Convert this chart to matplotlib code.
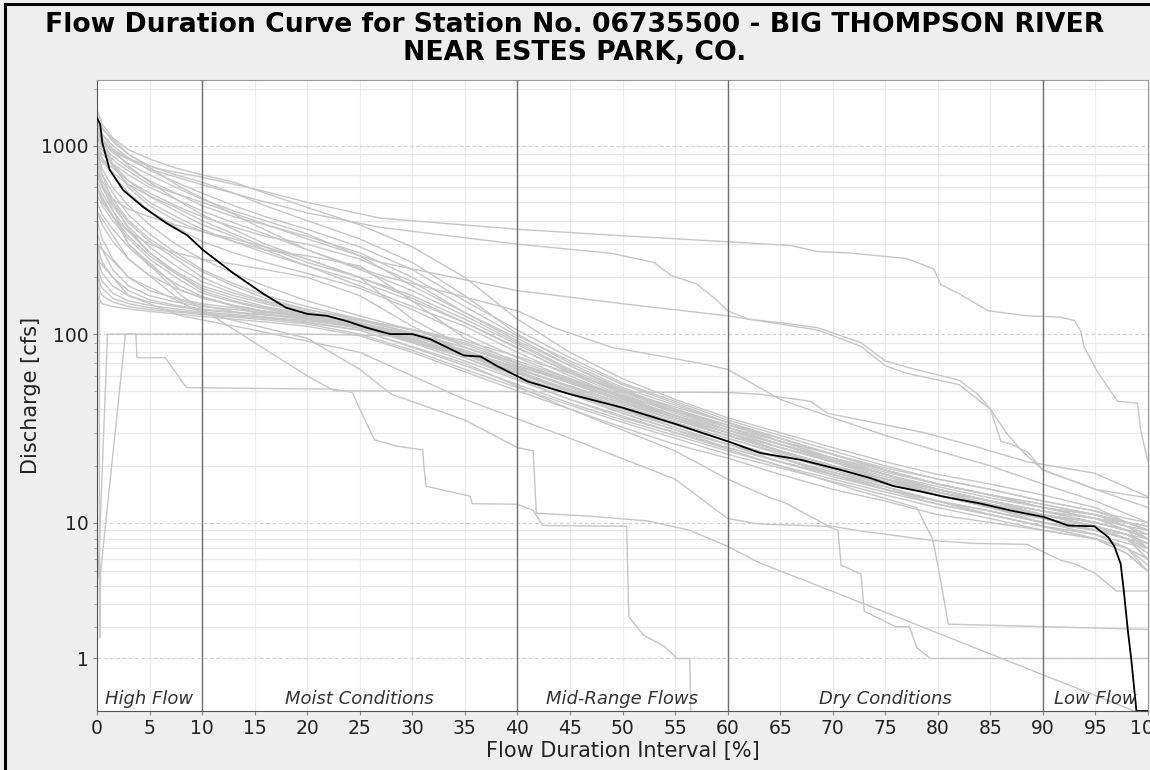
import numpy as np
import matplotlib
matplotlib.use("Agg")
import matplotlib.pyplot as plt
from matplotlib.patches import Rectangle

# ---------------- data ----------------
title = "Flow Duration Curve for Station No. 06735500 - BIG THOMPSON RIVER\nNEAR ESTES PARK, CO."
x_label = "Flow Duration Interval [%]"
y_label = "Discharge [cfs]"
zone_bounds = [10, 40, 60, 90]
zone_names = ["High Flow", "Moist Conditions", "Mid-Range Flows", "Dry Conditions", "Low Flow"]
zone_centers = [5, 25, 50, 75, 95]
x_ticks = list(range(0, 101, 5))
y_major = [1, 10, 100, 1000]
y_minor = [2, 3, 4, 5, 6, 7, 8, 9, 20, 30, 40, 50, 60, 70, 80, 90,
           200, 300, 400, 500, 600, 700, 800, 900, 2000]

# overall flow duration curve (black)
all_pct = [0, 0.3, 0.5, 1.2, 2.5, 4.4, 6.6, 8.6, 10.1, 13, 15.8, 18, 20, 21.9, 23.8,
           25.7, 27.9, 30, 31.7, 34.9, 36.5, 38, 41, 45, 50, 55, 60, 63.1, 67, 70.8,
           73.6, 75.8, 78.4, 80.6, 84.1, 86.9, 90.1, 92.4, 94.9, 96.2, 96.8, 97.4,
           97.7, 98.1, 98.4, 98.9, 99.0, 100]
all_cfs = [1400, 1300, 1040, 745, 580, 472, 388, 334, 279, 210, 164, 138, 128, 125, 117,
           108, 100, 100, 94, 77, 76, 68, 56, 48, 40.7, 33.4, 27, 23.4, 21.5, 19,
           17.2, 15.6, 14.6, 13.7, 12.6, 11.6, 10.7, 9.6, 9.5, 8.2, 7.2, 5.6,
           3.7, 1.8, 1.0, 0.0, 0.0, 0.0]

# yearly curves sharing one percent grid (gray)
year_pct = [0, 0.5, 1.5, 3, 5, 7.5, 10, 13, 16, 20, 25, 30, 35, 40, 45, 50, 55, 60,
            65, 70, 75, 80, 85, 90, 95, 98, 100]
upper_1 = [1550, 1300, 1100, 950, 850, 760, 700, 640, 560, 470, 380, 290, 200, 120, 80, 58, 45, 36, 30, 25, 21, 18, 16, 14, 12, 10, 9]
upper_2 = [1400, 1250, 1050, 900, 780, 700, 640, 560, 480, 400, 320, 240, 160, 100, 70, 52, 42, 34, 28, 23, 19, 16, 14, 12.5, 11, 9.5, 8]
upper_3 = [1250, 1150, 1000, 860, 740, 640, 560, 480, 420, 360, 290, 220, 150, 105, 75, 55, 44, 35, 29, 24, 20, 17, 15, 13, 11.5, 10, 9]
upper_4 = [1200, 1050, 920, 800, 700, 600, 520, 450, 400, 340, 260, 180, 130, 95, 68, 50, 40, 32, 26, 22, 18, 15, 13, 11.5, 10, 9, 7]
upper_5 = [1100, 980, 880, 760, 650, 560, 480, 420, 380, 330, 270, 200, 140, 98, 72, 54, 43, 34, 27, 23, 19, 16, 14, 12, 10.5, 9, 8]
upper_6 = [1000, 900, 800, 700, 600, 520, 450, 390, 340, 280, 220, 170, 125, 90, 65, 50, 39, 31, 26, 21, 18, 15.5, 13.5, 12, 10.5, 9.5, 8.5]
upper_7 = [950, 850, 760, 650, 560, 480, 420, 370, 330, 300, 250, 190, 130, 92, 68, 51, 40, 33, 27, 22, 19, 16, 14, 12, 11, 10, 9]
upper_8 = [900, 820, 720, 620, 540, 470, 400, 340, 290, 240, 200, 160, 120, 88, 64, 48, 38, 31, 25, 21, 17, 15, 13, 11, 10, 9, 8]
upper_9 = [1300, 1000, 800, 650, 540, 450, 380, 330, 280, 230, 190, 150, 115, 85, 62, 47, 37, 30, 24, 20, 17, 14, 12.5, 11, 9.5, 8.5, 7.5]
upper_10 = [1150, 950, 780, 620, 500, 420, 360, 310, 270, 230, 180, 140, 110, 80, 60, 46, 36, 29, 24, 20, 16.5, 14, 12, 10.5, 9, 8, 6]
mid_1 = [900, 750, 600, 480, 380, 300, 250, 210, 180, 150, 125, 105, 90, 72, 58, 46, 37, 30, 25, 21, 17.5, 15, 13, 11, 10, 9, 8]
mid_2 = [850, 700, 560, 430, 340, 270, 220, 185, 160, 140, 120, 100, 82, 66, 52, 42, 34, 28, 23, 19, 16, 14, 12, 10.5, 9, 8, 6]
mid_3 = [800, 650, 520, 400, 320, 260, 215, 180, 155, 135, 118, 102, 85, 68, 55, 44, 35, 29, 24, 20, 17, 14.5, 12.5, 11, 9.5, 8.5, 7.5]
mid_4 = [750, 620, 500, 390, 310, 250, 200, 170, 150, 135, 120, 105, 88, 70, 56, 45, 36, 30, 24, 20, 17, 14, 12, 10, 8.5, 7, 5]
mid_5 = [700, 600, 480, 370, 290, 230, 190, 165, 148, 132, 115, 98, 80, 64, 50, 40, 32, 26, 21, 18, 15, 13, 11.5, 10, 9, 8, 7]
mid_6 = [650, 560, 450, 350, 270, 215, 180, 160, 145, 130, 112, 95, 78, 62, 49, 39, 32, 26, 22, 18, 15.5, 13, 11.5, 10, 9, 8.5, 8]
mid_7 = [600, 520, 420, 330, 260, 210, 175, 155, 140, 128, 113, 97, 82, 66, 53, 43, 35, 29, 24, 20, 17, 14.5, 13, 11.5, 10.5, 10, 9.5]
mid_8 = [1000, 700, 500, 360, 270, 210, 170, 150, 138, 126, 110, 94, 78, 63, 51, 41, 33, 27, 22, 18.5, 15.5, 13, 11, 9.5, 8, 6.5, 5]
mid_9 = [550, 480, 400, 320, 250, 200, 165, 148, 136, 124, 108, 92, 75, 60, 48, 38, 31, 25, 21, 17.5, 15, 13, 11, 9.5, 8.5, 7.5, 7]
mid_10 = [500, 430, 360, 290, 230, 185, 158, 142, 132, 122, 107, 92, 77, 62, 50, 40, 33, 27, 22, 18, 15, 12.5, 11, 9.5, 8, 7, 6]
low_1 = [400, 320, 250, 200, 170, 155, 145, 138, 132, 126, 118, 106, 92, 76, 62, 50, 41, 34, 28, 23, 19, 16, 14, 12, 11, 10, 9.5]
low_2 = [350, 280, 220, 180, 160, 148, 140, 135, 130, 124, 115, 100, 85, 70, 57, 46, 37, 31, 26, 21.5, 18, 15, 13, 11.5, 10.5, 9.5, 9]
low_3 = [300, 240, 200, 170, 152, 142, 136, 131, 127, 122, 112, 97, 80, 65, 53, 43, 35, 29, 24, 20, 17, 14.5, 12.5, 11, 10, 9, 8.5]
low_4 = [250, 210, 180, 160, 148, 140, 134, 130, 126, 120, 110, 94, 78, 60, 48, 38, 31, 26, 22, 18.5, 16, 14, 12, 10.5, 9.5, 8.5, 7.5]
low_5 = [220, 190, 165, 150, 142, 136, 131, 127, 123, 118, 108, 90, 72, 57, 45, 36, 30, 25, 21, 18, 15, 13, 11.5, 10, 9, 8, 7]
low_6 = [200, 175, 155, 145, 138, 133, 129, 125, 121, 116, 105, 85, 68, 54, 43, 35, 29, 24, 20, 17, 14.5, 12.5, 11, 9.5, 8.5, 7, 6]
low_7 = [180, 160, 148, 140, 135, 131, 127, 123, 119, 113, 100, 82, 65, 52, 42, 34, 28, 23, 19.5, 16.5, 14, 12, 10.5, 9, 8, 6.5, 5]
low_8 = [160, 145, 140, 136, 132, 128, 124, 120, 116, 110, 98, 80, 63, 50, 40, 32, 26, 22, 18, 15, 13, 11, 10, 9, 8, 7, 5.5]
extra_1 = [700, 600, 520, 460, 420, 380, 350, 320, 290, 250, 200, 120, 85, 68, 55, 45, 37, 30, 25, 21, 17, 14.5, 12.5, 11, 9.5, 8.5, 7]
extra_2 = [1500, 1100, 800, 600, 480, 400, 350, 310, 280, 260, 230, 150, 95, 70, 55, 44, 36, 29, 24, 20, 17, 15, 13, 11.5, 10, 9, 8]
extra_3 = [600, 500, 420, 350, 300, 270, 250, 235, 220, 200, 160, 110, 80, 62, 50, 41, 34, 28, 23.5, 19.5, 16.5, 14, 12, 10.5, 9, 8, 7.5]
extra_4 = [1050, 850, 700, 560, 450, 370, 310, 270, 240, 210, 175, 135, 100, 75, 58, 47, 39, 32, 27, 22, 18.5, 16, 14, 12.5, 11, 10, 9]
extra_5 = [450, 380, 310, 250, 205, 175, 155, 142, 132, 122, 108, 93, 80, 67, 56, 47, 39, 33, 28, 23, 19.5, 17, 15, 13, 11.5, 10.5, 10]
extra_6 = [1350, 1150, 950, 780, 640, 520, 430, 360, 300, 250, 200, 155, 115, 84, 63, 49, 39, 32, 26, 21.5, 18, 15, 13, 11, 9.5, 8, 6.5]

# yearly curves with their own percent points (gray)
a_pct = [0, 1, 3, 6, 10, 15, 20, 27, 40, 49, 60, 66, 68.6, 71.4, 77, 79.6, 80.3, 82, 84.8,
         88.5, 91.7, 93, 93.6, 93.9, 95.2, 97.1, 99, 99.3, 100]
a_cfs = [1200, 1000, 850, 750, 680, 590, 500, 412, 360, 335, 309, 295, 274, 270, 252, 222, 183, 164, 133,
         125, 123, 118, 104, 86, 63, 44, 43, 31, 21]
b_pct = [0, 2, 5, 10, 15, 20, 27, 40, 49, 53, 54.6, 57, 58.7, 60, 62, 65, 68.6, 72.7, 75, 77.4,
         82, 83.8, 85, 86, 87, 88.6, 90, 91.7, 95, 100]
b_cfs = [1100, 900, 750, 620, 520, 440, 368, 300, 268, 240, 205, 185, 156, 133, 120, 115, 108, 90, 72, 66,
         57, 48, 40, 27, 26, 23.5, 19, 17.6, 15, 13.5]
c_pct = [0, 2, 5, 10, 15, 20, 27, 40, 50, 60, 65, 68.6, 72.7, 75, 77, 82, 85, 86.5, 88, 90, 95, 100]
c_cfs = [1000, 800, 620, 500, 400, 320, 240, 170, 145, 125, 113, 105, 86, 68, 62, 54, 40, 30, 24, 19, 15, 12]
d_pct = [0.1, 1.0, 3.7, 3.8, 6.5, 8.5, 22.6, 24.3, 25, 26.4, 28.4, 31, 31.1, 31.3, 35.5, 35.7, 40,
         41.5, 42.4, 50.4, 50.6, 52, 54, 55.2, 56.4, 56.5]
d_cfs = [4.5, 100, 100, 75, 75, 52, 51, 49, 40, 27.5, 25.5, 24.3, 20, 15.6, 13.8, 12.6, 12.5,
         11.6, 9.6, 9.5, 2.4, 1.7, 1.33, 1.0, 1.0, 0]
e_pct = [0, 3, 10, 20, 25, 28, 35, 40, 41.5, 41.8, 47, 52.4, 56.4, 60, 63, 73, 98.7]
e_cfs = [300, 200, 130, 95, 65, 48, 35, 25, 24, 11.2, 10.8, 10.2, 9.0, 7.2, 5.7, 3.0, 0]
f_pct = [0, 3, 8, 15, 25, 35, 45, 55, 60, 63, 69.5, 70.5, 70.8, 72.7, 73, 76, 77.3, 78, 79.3, 100]
f_cfs = [250, 160, 125, 105, 80, 45, 28, 17, 10.5, 9.8, 9.5, 9.0, 5.5, 4.8, 2.65, 2.0, 2.0, 1.3, 1.0, 1.0]
g_pct = [0, 3, 8, 15, 25, 35, 45, 55, 65, 72, 78, 79.5, 80, 81, 100]
g_cfs = [600, 300, 170, 130, 110, 75, 45, 30, 20, 15, 12, 8, 5.5, 2.1, 1.9]
h_pct = [0, 3, 8, 15, 25, 35, 45, 55, 60, 63.8, 65.5, 69.5, 72.7, 79.6, 83.4, 88.5, 91.7, 93, 94.9, 97, 100]
h_cfs = [450, 250, 150, 125, 105, 70, 40, 24, 17, 13.7, 12.7, 9.6, 8.9, 7.8, 7.5, 7.4, 5.9, 5.6, 4.9, 3.7, 3.7]
j_pct = [0, 3, 8, 15, 20, 22.6, 60, 63, 67.9, 69.5, 72.7, 78.7, 83.4, 88.5, 94.9, 100]
j_cfs = [700, 300, 160, 90, 60, 50, 49, 48, 44, 38, 35, 30, 25.5, 21, 18.3, 13.7]
k_pct = [0.2, 0.25, 0.35, 2.7, 20, 28]
k_cfs = [300, 1.6, 5, 100, 100, 98]
n_pct = [0, 3, 8, 15, 20, 27, 40, 43.5, 49, 57.4, 60, 65, 70, 75, 80, 85, 90, 95, 100]
n_cfs = [1300, 900, 600, 380, 280, 205, 133, 108, 85, 70, 65, 45, 36, 29, 24, 20, 16, 13, 10]

# ---------------- scale (JFreeChart-style adjusted log10) ----------------
def fwd(v):
    v = np.asarray(v, dtype=float)
    adj = np.where(v < 10, v + (10 - v) / 10.0, v)
    return np.log10(np.clip(adj, 1e-9, None))

def inv(f):
    u = 10.0 ** np.asarray(f, dtype=float)
    return np.where(u < 10, (u - 1) / 0.9, u)

# ---------------- figure ----------------
W, H = 1150, 770
fig = plt.figure(figsize=(W / 100, H / 100), dpi=100, facecolor="#EEEEEE")
ax_l, ax_r, ax_t, ax_b = 97, 1148, 80, 711
ax = fig.add_axes([ax_l / W, 1 - ax_b / H, (ax_r - ax_l) / W, (ax_b - ax_t) / H])
ax.set_facecolor("white")
ax.set_yscale("function", functions=(fwd, inv))

gray = "#C6C6C6"
grid_years = [upper_1, upper_2, upper_3, upper_4, upper_5, upper_6, upper_7, upper_8, upper_9, upper_10,
              mid_1, mid_2, mid_3, mid_4, mid_5, mid_6, mid_7, mid_8, mid_9, mid_10,
              low_1, low_2, low_3, low_4, low_5, low_6, low_7, low_8,
              extra_1, extra_2, extra_3, extra_4, extra_5, extra_6]
for vals in grid_years:
    ax.plot(year_pct, vals, color=gray, lw=1.0, zorder=2)
for p, v in [(a_pct, a_cfs), (b_pct, b_cfs), (c_pct, c_cfs), (d_pct, d_cfs), (e_pct, e_cfs),
             (f_pct, f_cfs), (g_pct, g_cfs), (h_pct, h_cfs), (j_pct, j_cfs), (k_pct, k_cfs),
             (n_pct, n_cfs)]:
    ax.plot(p, v, color=gray, lw=1.0, zorder=2)

for xb in zone_bounds:
    ax.axvline(xb, color="#6E6E6E", lw=1.0, zorder=3)

ax.plot(all_pct, all_cfs, color="black", lw=1.3, zorder=4)

ax.set_xlim(0, 100)
ax.set_ylim(0, 2230)
ax.set_xticks(x_ticks)
ax.set_xticklabels([str(t) for t in x_ticks])
ax.set_yticks(y_major)
ax.set_yticklabels([str(t) for t in y_major])
ax.set_yticks(y_minor, minor=True)
ax.set_yticklabels([], minor=True)

ax.grid(which="major", axis="x", color="#EBEBEB", lw=0.9, zorder=0)
ax.grid(which="minor", axis="y", color="#E8E8E8", lw=0.9, zorder=0)
ax.grid(which="major", axis="y", color="#D2D2D2", lw=0.9, ls=(0, (3, 2)), zorder=0)
ax.set_axisbelow(True)

ax.tick_params(axis="both", which="major", labelsize=13.5, colors="#222222", length=3, width=0.8,
               color="#888888", pad=3)
ax.tick_params(axis="y", which="minor", length=2, width=0.6, color="#999999")
for s in ["left", "bottom"]:
    ax.spines[s].set_color("#555555")
for s in ["top", "right"]:
    ax.spines[s].set_color("#9A9A9A")

for name, xc in zip(zone_names, zone_centers):
    ax.text(xc, 0.004, name, transform=ax.get_xaxis_transform(), ha="center", va="bottom",
            fontsize=13, style="italic", color="#333333", zorder=5)

ax.set_xlabel(x_label, fontsize=15, color="#222222")
ax.set_ylabel(y_label, fontsize=15, color="#222222")
ax.xaxis.set_label_coords(0.5, -(741 - ax_b) / (ax_b - ax_t))
ax.yaxis.set_label_coords(-(ax_l - 41) / (ax_r - ax_l), 0.5)

fig.text(0.5, 1 - 12 / H, title, ha="center", va="top", fontsize=19.2, fontweight="bold",
         color="black", linespacing=1.1)

fig.patches.append(Rectangle((5 / W, -0.05), 1.2, (H - 4) / H + 0.05, transform=fig.transFigure,
                             fill=False, ec="black", lw=2.2, zorder=10))

fig.savefig("out.png", dpi=100, facecolor=fig.get_facecolor())
